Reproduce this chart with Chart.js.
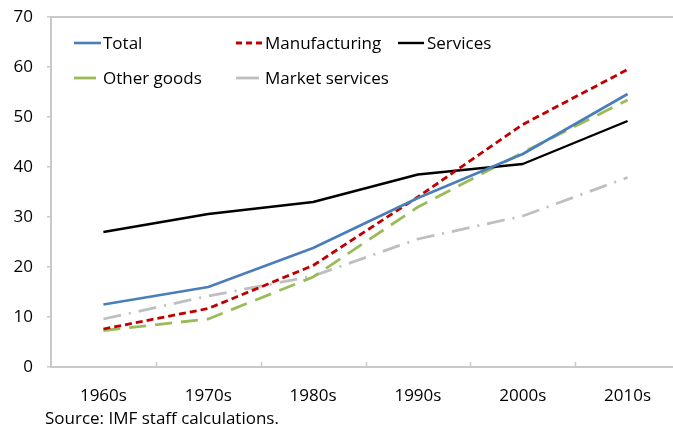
<!DOCTYPE html>
<html>
<head>
<meta charset="utf-8">
<script src="https://cdn.jsdelivr.net/npm/chart.js@4.4.1/dist/chart.umd.min.js"></script>
<style>
  html, body { margin: 0; padding: 0; background: #fff; overflow: hidden; }
  #wrap { width: 680px; height: 428px; }
</style>
</head>
<body>
<div id="wrap"><canvas id="c" width="680" height="428"></canvas></div>
<script>
const categories = ["1960s", "1970s", "1980s", "1990s", "2000s", "2010s"];
const totalValues = [12.5, 16.0, 23.8, 33.8, 42.6, 54.6];
const manufacturingValues = [7.6, 11.7, 20.3, 34.0, 48.5, 59.5];
const servicesValues = [27.0, 30.6, 33.0, 38.5, 40.6, 49.2];
const otherGoodsValues = [7.3, 9.6, 18.0, 32.0, 42.9, 53.4];
const marketServicesValues = [9.6, 14.2, 18.2, 25.6, 30.2, 37.9];
const yTickValues = [0, 10, 20, 30, 40, 50, 60, 70];
const sourceText = "Source: IMF staff calculations.";

const FONT = "'Open Sans', 'Noto Sans', sans-serif";
const FS = 17;
const AXIS = "#c9c9c9";

const datasets = [
  { label: "Total", data: totalValues, borderColor: "#4a7ebb", borderWidth: 2.6, borderDash: [], legendCol: 0, legendRow: 0, legendLen: 27 },
  { label: "Manufacturing", data: manufacturingValues, borderColor: "#c00000", borderWidth: 2.8, borderDash: [7, 4], legendCol: 1, legendRow: 0, legendLen: 27 },
  { label: "Services", data: servicesValues, borderColor: "#000000", borderWidth: 2.4, borderDash: [], legendCol: 2, legendRow: 0, legendLen: 26 },
  { label: "Other goods", data: otherGoodsValues, borderColor: "#9bbb59", borderWidth: 2.8, borderDash: [17, 9], legendCol: 0, legendRow: 1, legendLen: 22 },
  { label: "Market services", data: marketServicesValues, borderColor: "#bfbfbf", borderWidth: 2.8, borderDash: [18, 8, 2, 8], legendCol: 1, legendRow: 1, legendLen: 23 }
].map(d => Object.assign(d, { fill: false, pointRadius: 0, tension: 0, borderCapStyle: 'butt', borderJoinStyle: 'round' }));

const decorPlugin = {
  id: 'decor',
  beforeDatasetsDraw(chart) {
    const { ctx, chartArea, scales } = chart;
    ctx.save();
    ctx.strokeStyle = AXIS;
    ctx.lineWidth = 2;
    ctx.beginPath();
    ctx.moveTo(chartArea.left, chartArea.top);
    ctx.lineTo(chartArea.right, chartArea.top);
    ctx.stroke();
    const xs = scales.x;
    ctx.lineWidth = 1.5;
    for (let i = 0; i < categories.length - 1; i++) {
      const px = (xs.getPixelForValue(i) + xs.getPixelForValue(i + 1)) / 2;
      ctx.beginPath();
      ctx.moveTo(Math.round(px) + 0.5, chartArea.bottom);
      ctx.lineTo(Math.round(px) + 0.5, chartArea.bottom - 5);
      ctx.stroke();
    }
    ctx.restore();
  },
  afterDraw(chart) {
    const { ctx } = chart;
    ctx.save();
    const colX = [74, 236, 398];
    const rowY = [43, 78];
    ctx.font = FS + "px " + FONT;
    ctx.textBaseline = 'middle';
    ctx.fillStyle = '#000';
    chart.data.datasets.forEach(ds => {
      const x = colX[ds.legendCol], y = rowY[ds.legendRow];
      ctx.strokeStyle = ds.borderColor;
      ctx.lineWidth = ds.borderWidth;
      ctx.setLineDash(ds.legendCol === 1 && ds.legendRow === 0 ? [6, 4] : []);
      ctx.beginPath();
      ctx.moveTo(x, y);
      ctx.lineTo(x + ds.legendLen, y);
      ctx.stroke();
      ctx.setLineDash([]);
      ctx.fillText(ds.label, x + 29, y + 1);
    });
    ctx.font = FS + "px " + FONT;
    ctx.textBaseline = 'middle';
    ctx.fillText(sourceText, 45, 419);
    ctx.restore();
  }
};

new Chart(document.getElementById('c'), {
  type: 'line',
  data: { labels: categories, datasets },
  options: {
    responsive: false,
    animation: false,
    layout: { padding: { top: 17, right: 0, bottom: 0, left: 0 } },
    plugins: { legend: { display: false }, tooltip: { enabled: false }, title: { display: false } },
    scales: {
      x: {
        type: 'category',
        offset: true,
        grid: { display: false },
        border: { display: true, color: AXIS, width: 2 },
        ticks: { color: '#000', font: { family: FONT, size: FS }, padding: 11, maxRotation: 0 },
        afterFit(s) { s.height = 61; s.paddingLeft = 0; s.paddingRight = 0; }
      },
      y: {
        min: 0, max: 70,
        afterBuildTicks(s) { s.ticks = yTickValues.map(v => ({ value: v })); },
        grid: { display: true, drawOnChartArea: false, drawTicks: true, tickLength: 4, color: AXIS, lineWidth: 1.5 },
        border: { display: true, color: AXIS, width: 2 },
        ticks: { color: '#000', font: { family: FONT, size: FS }, padding: 14 },
        afterFit(s) { s.width = 51; s.paddingTop = 0; s.paddingBottom = 0; }
      }
    }
  },
  plugins: [decorPlugin]
});
</script>
</body>
</html>
